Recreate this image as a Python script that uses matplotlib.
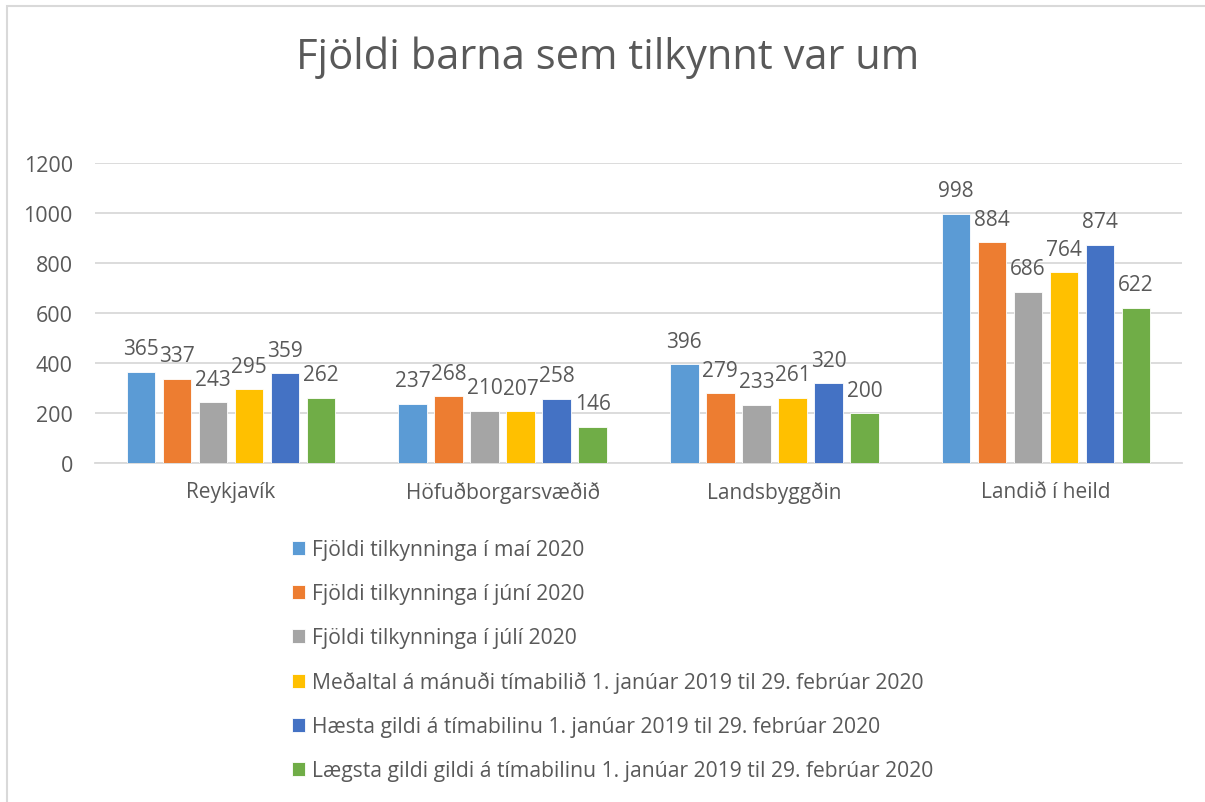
import matplotlib
matplotlib.use("Agg")
import matplotlib.pyplot as plt
import numpy as np
from matplotlib.patches import Rectangle

categories = ["Reykjavík", "Höfuðborgarsvæðið", "Landsbyggðin", "Landið í heild"]
series_names = [
    "Fjöldi tilkynninga í maí 2020",
    "Fjöldi tilkynninga í júní 2020",
    "Fjöldi tilkynninga í júlí 2020",
    "Meðaltal á mánuði tímabilið 1. janúar 2019 til 29. febrúar 2020",
    "Hæsta gildi á tímabilinu 1. janúar 2019 til 29. febrúar 2020",
    "Lægsta gildi gildi á tímabilinu 1. janúar 2019 til 29. febrúar 2020",
]
maí_2020 = [365, 237, 396, 998]
júní_2020 = [337, 268, 279, 884]
júlí_2020 = [243, 210, 233, 686]
meðaltal = [295, 207, 261, 764]
hæsta = [359, 258, 320, 874]
lægsta = [262, 146, 200, 622]
series_values = [maí_2020, júní_2020, júlí_2020, meðaltal, hæsta, lægsta]
colors = ["#5B9BD5", "#ED7D31", "#A5A5A5", "#FFC000", "#4472C4", "#70AD47"]
yticks = [0, 200, 400, 600, 800, 1000, 1200]

FONT = ["Open Sans", "DejaVu Sans"]
TXT = "#595959"
plt.rcParams["font.family"] = FONT

W, H = 1205, 803
fig = plt.figure(figsize=(W / 100, H / 100), dpi=100)

# chart border
fig.patches.append(Rectangle((7 / W, -0.1), 1.2, (H - 7) / H + 0.1,
                             transform=fig.transFigure, fill=False,
                             edgecolor="#D9D9D9", linewidth=1.5))

ax = fig.add_axes([95 / W, (H - 464) / H, (1182 - 95) / W, 300 / H])
x = np.arange(len(categories))
step = 0.1325
bw = 0.105
n = len(series_values)
for i, (vals, c, name) in enumerate(zip(series_values, colors, series_names)):
    pos = x + (i - (n - 1) / 2) * step
    bars = ax.bar(pos, vals, width=bw, color=c, label=name,
                  edgecolor="white", linewidth=0.6, zorder=3)
    for b, v in zip(bars, vals):
        ax.annotate(str(v), (b.get_x() + b.get_width() / 2, v),
                    xytext=(0, 12.5), textcoords="offset points",
                    ha="center", va="baseline", fontsize=15, color=TXT)

ax.set_xlim(-0.5, len(categories) - 0.5)
ax.set_ylim(0, 1200)
ax.set_yticks(yticks)
ax.set_yticklabels([str(t) for t in yticks])
ax.set_xticks(x)
ax.set_xticklabels(categories)
ax.tick_params(axis="both", length=0, labelsize=15, colors=TXT)
ax.tick_params(axis="y", labelsize=15.5, pad=16)
ax.tick_params(axis="x", pad=13)
ax.grid(axis="y", color="#D9D9D9", linewidth=1.3, zorder=0)
for s in ["top", "right", "left"]:
    ax.spines[s].set_visible(False)
ax.spines["bottom"].set_color("#D9D9D9")
ax.spines["bottom"].set_linewidth(1.3)

fig.text(0.504, 1 - 58 / H, "Fjöldi barna sem tilkynnt var um",
         ha="center", va="center", fontsize=30, color=TXT)

handles, labels = ax.get_legend_handles_labels()
fig.legend(handles, labels, loc="upper left",
           bbox_to_anchor=(284 / W, 1 - 532 / H), frameon=False,
           fontsize=15.2, labelcolor=TXT, handlelength=0.6, handleheight=0.6,
           handletextpad=0.35, labelspacing=1.09, borderaxespad=0)

fig.savefig("out.png", dpi=100)
